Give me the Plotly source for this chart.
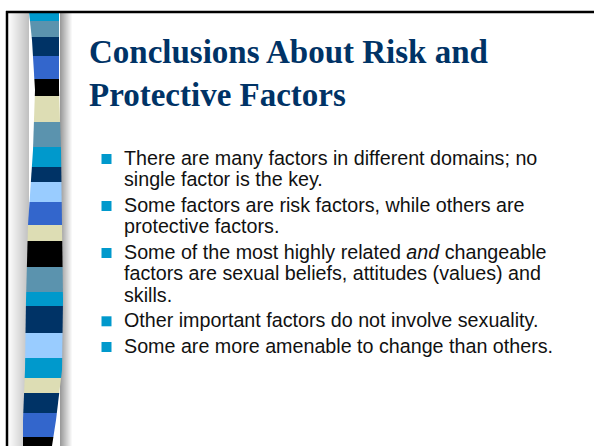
import plotly.graph_objects as go

W, H = 594, 446

# stripe boundaries (top y of each band) and their colours, top to bottom
stripe_tops = [12, 21, 37, 56, 79, 96, 122, 147, 167, 182, 202, 225,
               241, 267, 292, 306, 333, 358, 378, 393, 413, 437]
stripe_colors = ["#0099CC", "#5B93AE", "#003366", "#3366CC", "#000000", "#DDDDB4",
                 "#5B93AE", "#0099CC", "#003366", "#99CCFF", "#3366CC", "#DDDDB4",
                 "#000000", "#5B93AE", "#0099CC", "#003366", "#99CCFF", "#0099CC",
                 "#DDDDB4", "#003366", "#3366CC", "#000000"]

title_lines = ["Conclusions About Risk and", "Protective Factors"]

bullets = [
    ["There are many factors in different domains; no",
     "single factor is the key."],
    ["Some factors are risk factors, while others are",
     "protective factors."],
    ["Some of the most highly related <i>and</i> changeable",
     "factors are sexual beliefs, attitudes (values) and",
     "skills."],
    ["Other important factors do not involve sexuality."],
    ["Some are more amenable to change than others."],
]

# bowed outline of the striped column: (y, left x, right x)
EDGE_PTS = [(12, 29, 59), (40, 32, 59), (90, 35, 59), (150, 33, 61), (225, 28, 62),
            (300, 26, 63), (370, 25, 62), (420, 23, 56), (446, 23, 52)]


def col_edges(y):
    for (y0, l0, r0), (y1, l1, r1) in zip(EDGE_PTS[:-1], EDGE_PTS[1:]):
        if y <= y1:
            t = (y - y0) / (y1 - y0)
            return l0 + t * (l1 - l0), r0 + t * (r1 - r0)
    return EDGE_PTS[-1][1], EDGE_PTS[-1][2]


shapes = []

# soft grey shadow either side of the column
for i in range(20):
    g = int(250 - i * 3.0)
    shapes.append(dict(type="rect", x0=9 + i, x1=10 + i, y0=13, y1=H,
                       fillcolor=f"rgb({g},{g},{g})", line_width=0, layer="below"))
for i in range(12):
    g = int(155 + i * 8.5)
    shapes.append(dict(type="rect", x0=60 + i, x1=61 + i, y0=13, y1=H,
                       fillcolor=f"rgb({g},{g},{g})", line_width=0, layer="below"))

bottoms = stripe_tops[1:] + [H]
for top, bot, c in zip(stripe_tops, bottoms, stripe_colors):
    ys = [top] + [p[0] for p in EDGE_PTS if top < p[0] < bot] + [bot]
    left = [col_edges(y)[0] for y in ys]
    right = [col_edges(y)[1] for y in ys]
    path = "M" + " L".join(f"{x},{y}" for x, y in zip(left, ys))
    path += " L" + " L".join(f"{x},{y}" for x, y in zip(right[::-1], ys[::-1])) + " Z"
    shapes.append(dict(type="path", path=path, fillcolor=c, line_width=0))

# frame lines
shapes.append(dict(type="line", x0=6, x1=W, y0=12, y1=12, line=dict(color="black", width=2.5)))
shapes.append(dict(type="line", x0=7, x1=7, y0=11, y1=H, line=dict(color="black", width=2.5)))

annotations = []
for k, line in enumerate(title_lines):
    annotations.append(dict(x=87, y=63 + 43 * k - 11, text=f"<b>{line}</b>",
                            xanchor="left", yanchor="middle", showarrow=False,
                            font=dict(family="Liberation Serif", size=33, color="#003366")))

base = 164
for para in bullets:
    shapes.append(dict(type="rect", x0=101.5, x1=111.5, y0=base - 10, y1=base,
                       fillcolor="#0099CC", line_width=0))
    for j, line in enumerate(para):
        annotations.append(dict(x=122, y=base - 6, text=line, xanchor="left", yanchor="middle",
                                showarrow=False,
                                font=dict(family="Liberation Sans", size=19.7, color="#111111")))
        base += 21.3
    base += 25.7 - 21.3

fig = go.Figure()
fig.update_layout(
    width=W, height=H, margin=dict(l=0, r=0, t=0, b=0),
    paper_bgcolor="white", plot_bgcolor="white",
    xaxis=dict(range=[0, W], visible=False, fixedrange=True),
    yaxis=dict(range=[H, 0], visible=False, fixedrange=True),
    shapes=shapes, annotations=annotations, showlegend=False,
)
fig.write_html("out.html", config={"displayModeBar": False},
               post_script="document.body.style.margin='0';document.body.style.overflow='hidden';")
